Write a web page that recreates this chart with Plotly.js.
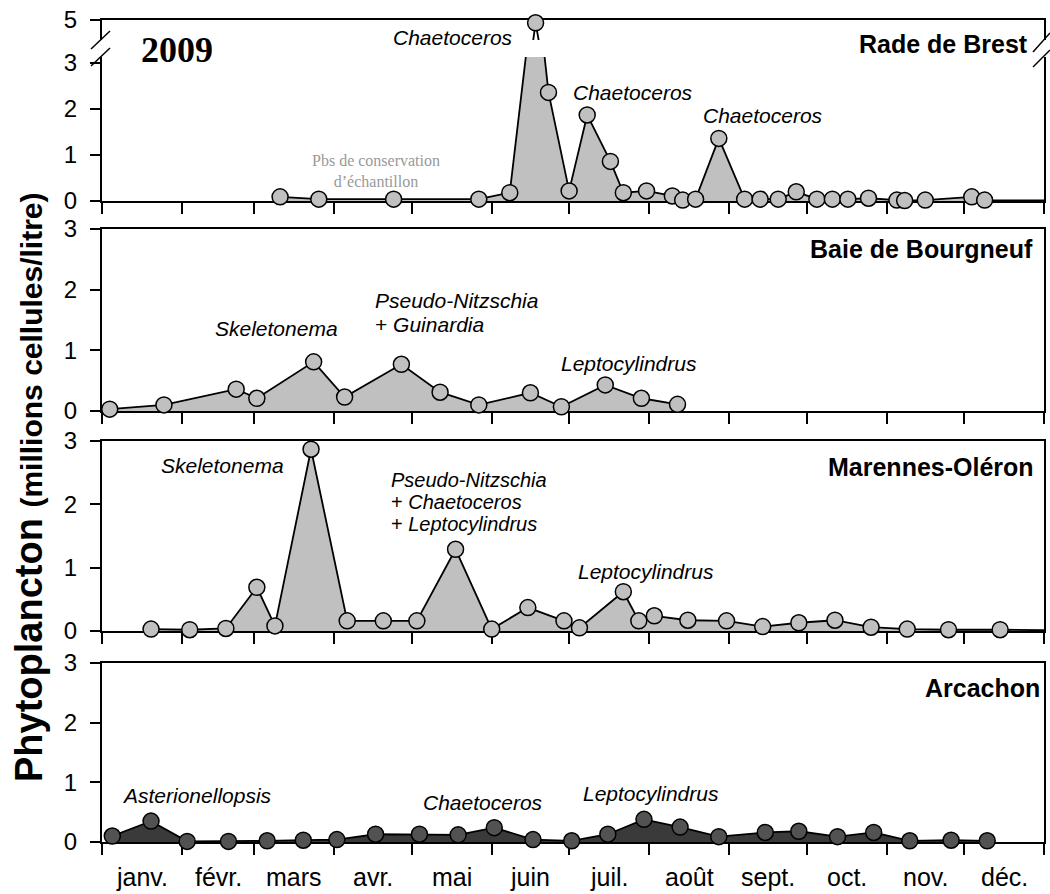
<!DOCTYPE html>
<html>
<head>
<meta charset="utf-8">
<script src="https://cdn.plot.ly/plotly-3.0.1.min.js"></script>
<style>html,body{margin:0;padding:0;background:#fff}#chart{width:1050px;height:894px}</style>
</head>
<body>
<div id="chart"></div>
<script>
// ---------------- DATA ----------------
const months = ['janv.','févr.','mars','avr.','mai','juin','juil.','août','sept.','oct.','nov.','déc.'];
const yTicks = [0, 1, 2, 3];

const brestDates = ['2009-03-11','2009-03-26','2009-04-24','2009-05-27','2009-06-08','2009-06-18','2009-06-23','2009-07-01','2009-07-08','2009-07-17','2009-07-22','2009-07-31','2009-08-10','2009-08-14','2009-08-19','2009-08-28','2009-09-07','2009-09-13','2009-09-20','2009-09-27','2009-10-05','2009-10-11','2009-10-17','2009-10-25','2009-11-05','2009-11-08','2009-11-16','2009-12-04','2009-12-09'];
const brestVals = [0.09,0.04,0.04,0.04,0.18,4.93,2.36,0.22,1.87,0.86,0.18,0.22,0.11,0.02,0.04,1.36,0.04,0.04,0.04,0.20,0.04,0.04,0.04,0.06,0.02,0.01,0.02,0.09,0.02];
const brestTailDate = ['2010-01-04'];
const brestTailVal = [0.01];

const bourgDates = ['2009-01-04','2009-01-25','2009-02-22','2009-03-02','2009-03-24','2009-04-05','2009-04-27','2009-05-12','2009-05-27','2009-06-16','2009-06-28','2009-07-15','2009-07-29','2009-08-12'];
const bourgVals = [0.03,0.10,0.36,0.21,0.81,0.23,0.77,0.31,0.10,0.30,0.07,0.43,0.21,0.11];

const mareDates = ['2009-01-20','2009-02-04','2009-02-18','2009-03-02','2009-03-09','2009-03-23','2009-04-06','2009-04-20','2009-05-03','2009-05-18','2009-06-01','2009-06-15','2009-06-29','2009-07-05','2009-07-22','2009-07-28','2009-08-03','2009-08-16','2009-08-31','2009-09-14','2009-09-28','2009-10-12','2009-10-26','2009-11-09','2009-11-25','2009-12-15'];
const mareVals = [0.03,0.02,0.04,0.69,0.08,2.87,0.16,0.16,0.16,1.29,0.03,0.37,0.16,0.05,0.62,0.16,0.24,0.17,0.16,0.07,0.13,0.17,0.06,0.03,0.02,0.02];
const mareTailDate = ['2010-01-05'];
const mareTailVal = [0.01];

const arcDates = ['2009-01-05','2009-01-20','2009-02-03','2009-02-19','2009-03-06','2009-03-20','2009-04-02','2009-04-17','2009-05-04','2009-05-19','2009-06-02','2009-06-17','2009-07-02','2009-07-16','2009-07-30','2009-08-13','2009-08-28','2009-09-15','2009-09-28','2009-10-13','2009-10-27','2009-11-10','2009-11-26','2009-12-10'];
const arcVals = [0.10,0.35,0.01,0.01,0.02,0.03,0.04,0.13,0.13,0.12,0.24,0.04,0.02,0.13,0.38,0.25,0.09,0.16,0.18,0.09,0.16,0.02,0.03,0.02];

// ---------------- LAYOUT HELPERS ----------------
const W = 1050, H = 894;
const L = 102, R = 1044, T = 20, B = 842;
const px = p => (p - L) / (R - L);
const py = p => (B - p) / (B - T);

const LOWER_TOP = 3.13;   // broken axis: lower segment top
const UPPER_MIN = 4.5;    // broken axis: upper segment bottom

const FONT = 'Liberation Sans, Arial, sans-serif';
const SERIF = 'Liberation Serif, Times New Roman, serif';
const lightFill = '#c0c0c0';
const darkFill = '#3a3a3a';
const darkMarker = '#525252';

// month label positions (middle of each month)
const monthMid = months.map((m, i) => {
  const a = Date.UTC(2009, i, 1), b = Date.UTC(2009, i + 1, 1);
  return new Date((a + b) / 2).toISOString().slice(0, 19).replace('T', ' ');
});

// ---------------- TRACES ----------------
function lineTrace(xs, ys, xa, ya, fillcolor, fill) {
  return {x: xs, y: ys, xaxis: xa, yaxis: ya, mode: 'lines', type: 'scatter',
    fill: fill ? 'tozeroy' : 'none', fillcolor: fillcolor,
    line: {color: '#000', width: 1.8}, hoverinfo: 'skip', showlegend: false};
}
function markerTrace(xs, ys, xa, ya, color) {
  return {x: xs, y: ys, xaxis: xa, yaxis: ya, mode: 'markers', type: 'scatter',
    cliponaxis: false,
    marker: {size: 16, color: color, line: {color: '#000', width: 1.5}},
    hoverinfo: 'x+y', showlegend: false};
}
const brestLowX = brestDates.filter((d, i) => brestVals[i] <= LOWER_TOP);
const brestLowY = brestVals.filter(v => v <= LOWER_TOP);
const brestUpX = brestDates.filter((d, i) => brestVals[i] >= UPPER_MIN);
const brestUpY = brestVals.filter(v => v >= UPPER_MIN);

const traces = [
  lineTrace(brestDates.concat(brestTailDate), brestVals.concat(brestTailVal), 'x', 'y', lightFill, true),
  lineTrace(brestDates, brestVals, 'x2', 'y2', lightFill, false),
  markerTrace(brestLowX, brestLowY, 'x', 'y', lightFill),
  markerTrace(brestUpX, brestUpY, 'x2', 'y2', lightFill),
  lineTrace(bourgDates, bourgVals, 'x3', 'y3', lightFill, true),
  markerTrace(bourgDates, bourgVals, 'x3', 'y3', lightFill),
  lineTrace(mareDates.concat(mareTailDate), mareVals.concat(mareTailVal), 'x4', 'y4', lightFill, true),
  markerTrace(mareDates, mareVals, 'x4', 'y4', lightFill),
  lineTrace(arcDates, arcVals, 'x5', 'y5', darkFill, true),
  markerTrace(arcDates, arcVals, 'x5', 'y5', darkMarker)
];

// ---------------- AXES ----------------
const xRange = ['2009-01-01', '2010-01-01'];
function xAxis(anchor, mirror) {
  return {type: 'date', range: xRange, domain: [0, 1], anchor: anchor,
    tickmode: 'linear', tick0: '2009-01-01', dtick: 'M1',
    ticks: 'outside', ticklen: 11, tickwidth: 2, tickcolor: '#000',
    showticklabels: false, showline: true, linecolor: '#000', linewidth: 2,
    mirror: mirror, showgrid: false, zeroline: false, layer: 'below traces', fixedrange: true};
}
function yAxis(domain, range, anchor) {
  return {domain: domain, range: range, anchor: anchor,
    tickmode: 'array', tickvals: yTicks, ticktext: yTicks.map(String),
    ticks: 'outside', ticklen: 10, tickwidth: 2, tickcolor: '#000', ticklabelstandoff: 8,
    tickfont: {family: FONT, size: 24, color: '#000'},
    showline: true, linecolor: '#000', linewidth: 2, mirror: true,
    showgrid: false, zeroline: false, layer: 'below traces', fixedrange: true};
}

const layout = {
  width: W, height: H,
  margin: {l: L, r: W - R, t: T, b: H - B, pad: 0},
  paper_bgcolor: '#fff', plot_bgcolor: 'rgba(0,0,0,0)',
  showlegend: false,
  font: {family: FONT, color: '#000'},
  xaxis: xAxis('y', false),
  xaxis2: Object.assign(xAxis('y2', false), {side: 'top', ticks: ''}),
  xaxis3: xAxis('y3', true),
  xaxis4: xAxis('y4', true),
  xaxis5: xAxis('y5', true),
  yaxis: yAxis([py(201), py(57)], [0, LOWER_TOP], 'x'),
  yaxis2: Object.assign(yAxis([py(40), 1], [UPPER_MIN, 5], 'x2'), {tickvals: [5], ticktext: ['5']}),
  yaxis3: yAxis([py(411), py(229)], [0, 3], 'x3'),
  yaxis4: yAxis([py(631), py(441)], [0, 3], 'x4'),
  yaxis5: yAxis([0, py(663)], [0, 3], 'x5'),
  shapes: [],
  annotations: []
};

// broken-axis slashes
[[91, 49, 110, 31], [91, 66, 110, 48], [1033, 52, 1050, 33], [1033, 67, 1050, 50]].forEach(s => {
  layout.shapes.push({type: 'line', xref: 'paper', yref: 'paper',
    x0: px(s[0]), y0: py(s[1]), x1: px(s[2]), y1: py(s[3]),
    line: {color: '#000', width: 1.5}});
});

// month labels, placed on the bottom date axis
months.forEach((m, i) => {
  layout.annotations.push({text: m, xref: 'x5', yref: 'paper', x: monthMid[i], y: py(877),
    xanchor: 'center', yanchor: 'middle', showarrow: false, borderpad: 0,
    font: {family: FONT, size: 25, color: '#000'}});
});

function addText(text, x, y, opts) {
  opts = opts || {};
  layout.annotations.push({text: text, xref: 'paper', yref: 'paper', x: px(x), y: py(y),
    xanchor: opts.xanchor || 'center', yanchor: 'middle', showarrow: false, borderpad: 0,
    textangle: opts.angle || 0, align: opts.align || 'center',
    font: {family: opts.family || FONT, size: opts.size || 21, color: opts.color || '#000'}});
}
const ital = t => '<i>' + t + '</i>';

// panel 1
addText('<b>2009</b>', 177, 50, {family: SERIF, size: 36});
addText('<b>Rade de Brest</b>', 1029, 44, {xanchor: 'right', size: 25});
addText(ital('Chaetoceros'), 453, 37);
addText(ital('Chaetoceros'), 633, 93);
addText(ital('Chaetoceros'), 763, 115);
addText('Pbs de conservation<br>d’échantillon', 376, 171, {family: SERIF, size: 16, color: '#999'});
// panel 2
addText('<b>Baie de Bourgneuf</b>', 1034, 249, {xanchor: 'right', size: 25});
addText(ital('Skeletonema'), 276, 328);
addText(ital('Pseudo-Nitzschia'), 374, 300, {xanchor: 'left'});
addText('+ ' + ital('Guinardia'), 374, 324, {xanchor: 'left'});
addText(ital('Leptocylindrus'), 629, 363);
// panel 3
addText('<b>Marennes-Oléron</b>', 1035, 467, {xanchor: 'right', size: 25});
addText(ital('Skeletonema'), 222, 465);
addText(ital('Pseudo-Nitzschia'), 390, 480, {xanchor: 'left', size: 20});
addText('+ ' + ital('Chaetoceros'), 390, 502, {xanchor: 'left', size: 20});
addText('+ ' + ital('Leptocylindrus'), 390, 524, {xanchor: 'left', size: 20});
addText(ital('Leptocylindrus'), 646, 571);
// panel 4
addText('<b>Arcachon</b>', 1041, 688, {xanchor: 'right', size: 25});
addText(ital('Asterionellopsis'), 197, 795);
addText(ital('Chaetoceros'), 483, 802);
addText(ital('Leptocylindrus'), 651, 793);
// y title
addText('<b>Phytoplancton <span style="font-size:30px">(millions cellules/litre)</span></b>', 29, 487, {size: 38, angle: -90});

Plotly.newPlot('chart', traces, layout, {staticPlot: true, displayModeBar: false});
</script>
</body>
</html>
